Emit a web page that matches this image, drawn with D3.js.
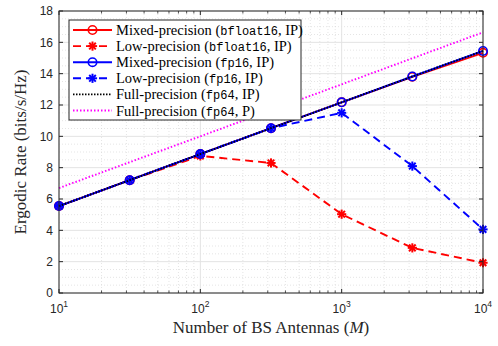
<!DOCTYPE html>
<html>
<head>
<meta charset="utf-8">
<script src="https://cdn.jsdelivr.net/npm/d3@7"></script>
<style>
  body { margin: 0; background: #fff; }
  svg { display: block; }
  .tick-label { font-family: "Liberation Sans", Arial, sans-serif; font-size: 12px; fill: #262626; }
  .axis-title { font-family: "Liberation Serif", "DejaVu Serif", serif; font-size: 17px; fill: #262626; }
  .legend-text { font-family: "Liberation Serif", "DejaVu Serif", serif; font-size: 14.5px; fill: #000; }
  .mono { font-family: "Liberation Mono", "DejaVu Sans Mono", monospace; font-size: 12px; }
</style>
</head>
<body>
<div id="chart"></div>
<script>
// Chart data
const antennas = [10, 31.62, 100, 316.2, 1000, 3162, 10000];
const mixedBf16 = [5.55, 7.2, 8.87, 10.52, 12.17, 13.8, 15.33];
const lowBf16 = [5.55, 7.2, 8.75, 8.3, 5.03, 2.88, 1.93];
const mixedFp16 = [5.55, 7.2, 8.87, 10.52, 12.17, 13.82, 15.45];
const lowFp16 = [5.55, 7.2, 8.87, 10.52, 11.5, 8.1, 4.06];
const fullFp64IP = [5.55, 7.2, 8.87, 10.52, 12.17, 13.82, 15.45];
const fullFp64P = [6.7, 8.35, 10.0, 11.66, 13.32, 14.98, 16.64];
const yTicks = [0, 2, 4, 6, 8, 10, 12, 14, 16, 18];
const xTicks = [10, 100, 1000, 10000];

const series = [
  { name: 'Mixed-precision', fmt: 'bfloat16', tag: 'IP', values: mixedBf16, color: '#ff0000', dash: null, marker: 'circle' },
  { name: 'Low-precision', fmt: 'bfloat16', tag: 'IP', values: lowBf16, color: '#ff0000', dash: '8,5', marker: 'star' },
  { name: 'Mixed-precision', fmt: 'fp16', tag: 'IP', values: mixedFp16, color: '#0000ff', dash: null, marker: 'circle' },
  { name: 'Low-precision', fmt: 'fp16', tag: 'IP', values: lowFp16, color: '#0000ff', dash: '8,5', marker: 'star' },
  { name: 'Full-precision', fmt: 'fp64', tag: 'IP', values: fullFp64IP, color: '#000000', dash: '1.5,1.5', marker: null },
  { name: 'Full-precision', fmt: 'fp64', tag: 'P', values: fullFp64P, color: '#ff00ff', dash: '1.5,2', marker: null }
];

const width = 498, height = 346;
const margin = { top: 11, right: 15, bottom: 53, left: 59 };
const innerW = width - margin.left - margin.right;
const innerH = height - margin.top - margin.bottom;

const svg = d3.select('#chart').append('svg')
  .attr('width', width)
  .attr('height', height);

const x = d3.scaleLog().domain([10, 10000]).range([0, innerW]);
const y = d3.scaleLinear().domain([0, 18]).range([innerH, 0]);

const g = svg.append('g').attr('transform', `translate(${margin.left},${margin.top})`);

// Minor grid
const xMinor = [];
for (let d = 10; d < 10000; d *= 10) {
  for (let k = 2; k <= 9; k++) xMinor.push(d * k);
}
const yMinor = d3.range(0, 18.01, 0.5).filter(v => v % 2 !== 0);

g.selectAll('.xminor').data(xMinor).enter().append('line')
  .attr('x1', d => x(d)).attr('x2', d => x(d))
  .attr('y1', 0).attr('y2', innerH)
  .attr('stroke', '#d4d4d4').attr('stroke-width', 0.6).attr('stroke-dasharray', '1,2');
g.selectAll('.yminor').data(yMinor).enter().append('line')
  .attr('x1', 0).attr('x2', innerW)
  .attr('y1', d => y(d)).attr('y2', d => y(d))
  .attr('stroke', '#d4d4d4').attr('stroke-width', 0.6).attr('stroke-dasharray', '1,2');

// Major grid
g.selectAll('.xmajor').data(xTicks).enter().append('line')
  .attr('x1', d => x(d)).attr('x2', d => x(d))
  .attr('y1', 0).attr('y2', innerH)
  .attr('stroke', '#e3e3e3').attr('stroke-width', 1);
g.selectAll('.ymajor').data(yTicks).enter().append('line')
  .attr('x1', 0).attr('x2', innerW)
  .attr('y1', d => y(d)).attr('y2', d => y(d))
  .attr('stroke', '#e3e3e3').attr('stroke-width', 1);

// Lines
const line = d3.line().x((d, i) => x(antennas[i])).y(d => y(d));

function drawMarker(sel, type, cx, cy, color) {
  if (type === 'circle') {
    sel.append('circle').attr('cx', cx).attr('cy', cy).attr('r', 4.2)
      .attr('fill', 'none').attr('stroke', color).attr('stroke-width', 1.6);
  } else if (type === 'star') {
    const r = 4.6, rd = r * 0.72;
    const segs = [[-r, 0, r, 0], [0, -r, 0, r], [-rd, -rd, rd, rd], [-rd, rd, rd, -rd]];
    segs.forEach(s => sel.append('line')
      .attr('x1', cx + s[0]).attr('y1', cy + s[1])
      .attr('x2', cx + s[2]).attr('y2', cy + s[3])
      .attr('stroke', color).attr('stroke-width', 2));
  }
}

series.forEach(s => {
  g.append('path')
    .datum(s.values)
    .attr('d', line)
    .attr('fill', 'none')
    .attr('stroke', s.color)
    .attr('stroke-width', 1.9)
    .attr('stroke-dasharray', s.dash);
  if (s.marker) {
    const mg = g.append('g');
    s.values.forEach((v, i) => drawMarker(mg, s.marker, x(antennas[i]), y(v), s.color));
  }
});

// Axes box and ticks
const axisColor = '#262626';
g.append('rect').attr('width', innerW).attr('height', innerH)
  .attr('fill', 'none').attr('stroke', axisColor).attr('stroke-width', 1);

const tickLen = 4, minorLen = 2.5;
yTicks.forEach(v => {
  [[0, tickLen], [innerW, innerW - tickLen]].forEach(([a, b]) =>
    g.append('line').attr('x1', a).attr('x2', b).attr('y1', y(v)).attr('y2', y(v))
      .attr('stroke', axisColor).attr('stroke-width', 1));
});
xTicks.forEach(v => {
  [[innerH, innerH - tickLen], [0, tickLen]].forEach(([a, b]) =>
    g.append('line').attr('x1', x(v)).attr('x2', x(v)).attr('y1', a).attr('y2', b)
      .attr('stroke', axisColor).attr('stroke-width', 1));
});
xMinor.forEach(v => {
  [[innerH, innerH - minorLen], [0, minorLen]].forEach(([a, b]) =>
    g.append('line').attr('x1', x(v)).attr('x2', x(v)).attr('y1', a).attr('y2', b)
      .attr('stroke', axisColor).attr('stroke-width', 0.8));
});

// Tick labels
g.selectAll('.ylab').data(yTicks).enter().append('text')
  .attr('class', 'tick-label')
  .attr('x', -6).attr('y', d => y(d))
  .attr('dy', '0.35em')
  .attr('text-anchor', 'end')
  .text(d => d);

xTicks.forEach(v => {
  const t = g.append('text').attr('class', 'tick-label')
    .attr('x', x(v)).attr('y', innerH + 20)
    .attr('text-anchor', 'middle');
  t.append('tspan').text('10');
  t.append('tspan').attr('dy', -6).style('font-size', '8.5px').text(Math.round(Math.log10(v)));
});

// Axis titles
svg.append('text').attr('class', 'axis-title')
  .attr('transform', `translate(26,${margin.top + innerH / 2}) rotate(-90)`)
  .attr('text-anchor', 'middle')
  .text('Ergodic Rate (bits/s/Hz)');

const xt = svg.append('text').attr('class', 'axis-title')
  .attr('x', margin.left + innerW / 2).attr('y', 333)
  .attr('text-anchor', 'middle');
xt.append('tspan').text('Number of BS Antennas (');
xt.append('tspan').style('font-style', 'italic').text('M');
xt.append('tspan').text(')');

// Legend
const lg = svg.append('g').attr('transform', 'translate(69,20)');
lg.append('rect').attr('width', 232).attr('height', 100)
  .attr('fill', '#fff').attr('stroke', axisColor).attr('stroke-width', 1);
series.forEach((s, i) => {
  const ly = 10 + i * 16.1;
  lg.append('line').attr('x1', 4).attr('x2', 43).attr('y1', ly).attr('y2', ly)
    .attr('stroke', s.color).attr('stroke-width', 1.9)
    .attr('stroke-dasharray', s.dash);
  if (s.marker) drawMarker(lg, s.marker, 23.5, ly, s.color);
  const t = lg.append('text').attr('class', 'legend-text')
    .attr('x', 47).attr('y', ly).attr('dy', '0.35em');
  t.append('tspan').text(s.name + ' (');
  t.append('tspan').attr('class', 'mono').text(s.fmt);
  t.append('tspan').text(', ' + s.tag + ')');
});
</script>
</body>
</html>
